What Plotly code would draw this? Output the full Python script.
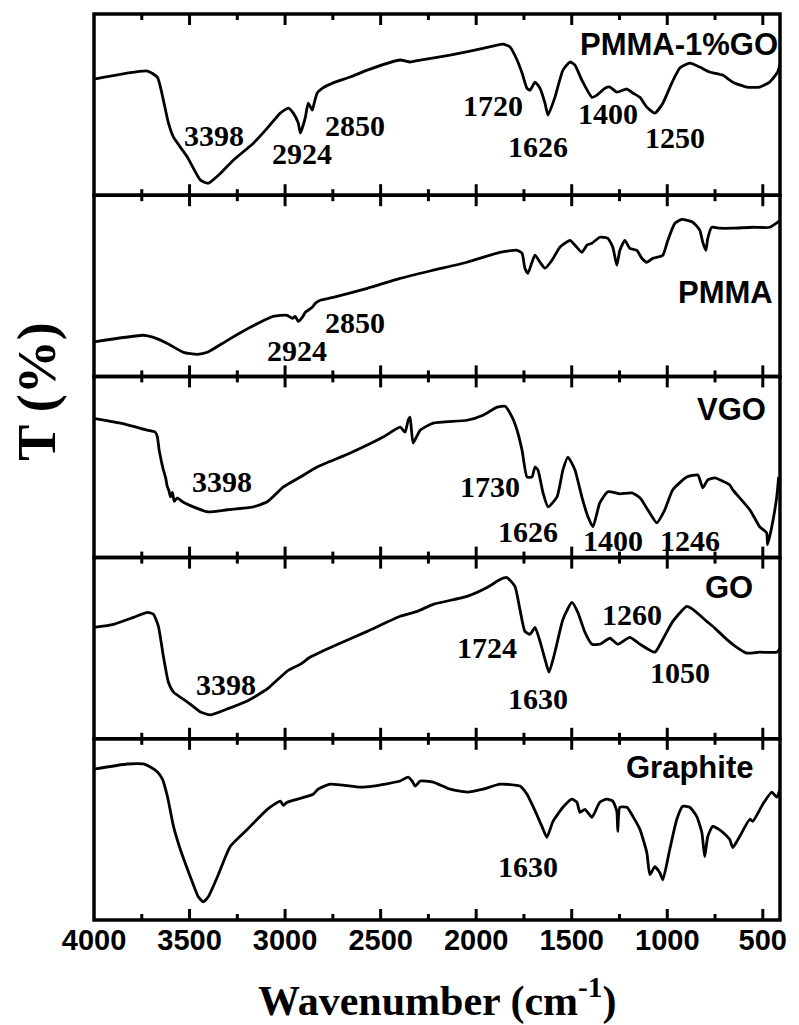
import plotly.graph_objects as go
from plotly.subplots import make_subplots

# ---- FTIR spectra (wavenumber in cm^-1, transmittance in arbitrary units per panel) ----
pmma_go_wn = [4000, 3720, 3668, 3637, 3611, 3584, 3511, 3443, 3402, 3339, 3271, 3166, 3093, 3025,
              2983, 2957, 2931, 2920, 2894, 2879, 2858, 2853, 2832, 2806, 2748, 2659, 2570, 2398,
              2346, 2293, 2137, 1964, 1860, 1823, 1786, 1760, 1734, 1718, 1692, 1666, 1640, 1624,
              1588, 1546, 1509, 1483, 1447, 1394, 1368, 1326, 1300, 1264, 1211, 1180, 1143, 1107,
              1065, 1023, 976, 934, 882, 830, 778, 710, 657, 584, 516, 464, 422, 410]
pmma_go_t = [64, 68.5, 65, 52.5, 40, 32, 21, 8.3, 6.6, 12, 19.3, 28.7, 37, 45.3,
             48, 45.3, 39.8, 34.3, 43, 50.8, 47, 48.6, 56.4, 59, 62, 65.2, 69, 74.6,
             73.5, 74.6, 77.3, 81, 83.4, 81.8, 74.6, 67.4, 59, 58, 62.4, 59, 50.8, 44.2,
             54, 69, 73.5, 71.8, 63.5, 54, 55.2, 59, 59.7, 56.9, 58.6, 56.4, 54, 48.6,
             45.3, 50.8, 62, 70.2, 72.9, 70.7, 68, 66.3, 62.4, 59.7, 59.7, 62.4, 68, 72]

pmma_wn = [4000, 3741, 3689, 3616, 3532, 3459, 3407, 3302, 3182, 3062, 2989, 2962, 2947, 2931,
           2910, 2894, 2879, 2858, 2842, 2816, 2748, 2570, 2398, 2225, 2048, 1875, 1786, 1760,
           1745, 1729, 1708, 1692, 1666, 1640, 1603, 1562, 1509, 1483, 1447, 1420, 1394, 1353,
           1311, 1285, 1264, 1248, 1222, 1196, 1159, 1133, 1107, 1075, 1023, 997, 960, 924, 866,
           830, 814, 798, 788, 767, 725, 657, 553, 464, 422, 410]
pmma_t = [19, 22.7, 21.5, 18.2, 13.3, 12.2, 13.3, 19.9, 27.1, 33.1, 33.7, 32, 33.1, 30.4,
          32.6, 35.4, 36.5, 38.1, 40.3, 42, 43.6, 48.6, 54.1, 58.6, 63, 68.5, 69.6, 68,
          59.7, 56.9, 63, 66.9, 63, 59.7, 64.1, 71.3, 75.1, 72.4, 68.5, 72.4, 73.5, 76.8,
          76.2, 71.3, 61.3, 69.6, 75.1, 70.7, 69.6, 65.2, 63, 65.2, 66.9, 75.1, 84.5, 86.7, 85.1,
          80.7, 74, 69.6, 76.2, 82.3, 81.8, 81.8, 82.3, 82.3, 85.1, 86]

vgo_wn = [4000, 3861, 3720, 3679, 3668, 3660, 3652, 3645, 3637, 3625, 3616, 3608, 3600, 3590,
          3580, 3564, 3537, 3480, 3407, 3302, 3166, 3093, 3009, 2920, 2832, 2659, 2487, 2398,
          2372, 2356, 2346, 2330, 2293, 2225, 2048, 1964, 1891, 1849, 1812, 1786, 1760, 1734,
          1708, 1692, 1677, 1650, 1624, 1577, 1546, 1520, 1483, 1447, 1415, 1389, 1353, 1311,
          1248, 1185, 1143, 1102, 1055, 1013, 971, 898, 840, 814, 788, 751, 673, 657, 568,
          516, 480, 475, 453, 427, 417]
vgo_t = [76.9, 74.2, 70.3, 69.2, 66.5, 60, 55.5, 52, 48.4, 44, 39, 37, 33.5, 36,
         31, 33, 30.8, 28, 25.3, 26.4, 28, 30.8, 39, 44.5, 50, 57.7, 66.5, 72,
         69.2, 75.8, 77.5, 63.2, 70.3, 74.2, 75.8, 78.6, 83, 83.5, 77.5, 70.3, 59.3, 44.5,
         44.5, 50, 48.4, 35.7, 28, 33.5, 48.4, 55.5, 48.4, 33.5, 22.5, 17, 30.2, 36.3,
         35.2, 35.7, 33, 26.4, 19.2, 26.4, 37.4, 44.5, 45.6, 38.5, 42.9, 44, 40.1, 37.4, 26.4,
         17, 13.7, 7.1, 17, 33.5, 44.5]

go_wn = [4000, 3898, 3794, 3720, 3689, 3663, 3637, 3611, 3584, 3511, 3443, 3391, 3302, 3198,
         3093, 2989, 2920, 2868, 2748, 2570, 2398, 2309, 2225, 2048, 1943, 1875, 1839, 1797,
         1771, 1745, 1718, 1692, 1666, 1640, 1619, 1588, 1546, 1499, 1468, 1431, 1394, 1353,
         1300, 1258, 1196, 1143, 1065, 1023, 971, 898, 866, 793, 762, 689, 636, 584, 516,
         427, 410]
go_t = [61.5, 63.2, 67, 69.8, 68.7, 62.1, 45.6, 31.3, 25.8, 20.3, 14.8, 13.2, 16.5, 20.9,
        27.5, 37.4, 41.2, 45.1, 51.1, 59.3, 67.6, 70.3, 74.2, 78.6, 83.5, 87.9, 89, 84.1,
        71.4, 59.3, 57.7, 61.5, 53.8, 44, 36.8, 47.8, 65.9, 75.3, 69.8, 58.8, 52.2, 52.2,
        55.5, 52.2, 56, 52.2, 47.8, 54.9, 64.8, 73.1, 71.4, 64.8, 62.1, 54.9, 50.5, 47.3, 47.8,
        47.8, 50]

graphite_wn = [4000, 3825, 3741, 3705, 3668, 3642, 3616, 3584, 3548, 3496, 3454, 3428, 3402,
               3354, 3287, 3198, 3093, 3025, 3009, 2989, 2853, 2827, 2764, 2607, 2539, 2398,
               2356, 2335, 2319, 2293, 2225, 2137, 2048, 1964, 1875, 1771, 1734, 1703, 1656,
               1630, 1598, 1546, 1499, 1473, 1457, 1431, 1394, 1353, 1316, 1285, 1264, 1259,
               1248, 1211, 1180, 1143, 1107, 1091, 1065, 1039, 1023, 987, 950, 919, 882, 846,
               819, 804, 788, 762, 715, 673, 657, 621, 568, 553, 500, 453, 427, 410]
graphite_t = [83.3, 86.1, 86.1, 84.4, 81.7, 77.8, 68.3, 51.7, 38.9, 23.9, 12.8, 10, 12.8,
              23.9, 40.6, 50, 61.1, 65.6, 63.3, 65, 69.4, 72.2, 75, 73.3, 73.9, 76.7,
              78.9, 76.7, 73.9, 76.7, 76.1, 72.2, 70.6, 72.2, 75, 73.9, 69.4, 62.8, 51.7,
              45.6, 54.4, 62.2, 66.7, 65, 59.4, 61.1, 56.7, 65, 66.7, 65.6, 60, 48.9,
              62.2, 62.2, 57.2, 50, 37.2, 25, 29.4, 26.1, 22.2, 38.9, 55.6, 62.8, 62.2, 57.2,
              48.3, 35, 46.1, 51.7, 48.9, 44.4, 40, 46.1, 55.6, 54.4, 63.9, 70.6, 67.8, 72]

sample_names = ["PMMA-1%GO", "PMMA", "VGO", "GO", "Graphite"]
sample_wn = [pmma_go_wn, pmma_wn, vgo_wn, go_wn, graphite_wn]
sample_t = [pmma_go_t, pmma_t, vgo_t, go_t, graphite_t]

# sample name label positions (x at right edge of text, y) per panel
name_pos = [(410, 83), (438, 46.4), (474, 82), (542, 83.5), (542, 84.4)]

# peak labels: (panel, text, wavenumber position, y position)
peak_labels = [
    (1, "3398", 3370, 33), (1, "2924", 2910, 23.2), (1, "2850", 2633, 38.7),
    (1, "1720", 1912, 49.7), (1, "1626", 1677, 27.1), (1, "1400", 1311, 45.3),
    (1, "1250", 960, 32),
    (2, "2924", 2936, 14.4), (2, "2850", 2633, 29.8),
    (3, "3398", 3328, 41.8), (3, "1730", 1927, 39), (3, "1626", 1729, 14.3),
    (3, "1400", 1285, 9.3), (3, "1246", 882, 9.3),
    (4, "3398", 3307, 30.2), (4, "1724", 1943, 50.5), (4, "1630", 1677, 22),
    (4, "1260", 1185, 68.7), (4, "1050", 934, 36.8),
    (5, "1630", 1729, 29.4),
]

# wavenumber axis: range and tick values (cm^-1)
X_RANGE = [4000, 410]
major_ticks = [500, 1000, 1500, 2000, 2500, 3000, 3500]
minor_ticks = [750, 1250, 1750, 2250, 2750, 3250, 3750]

N_PANELS = 5
FIG_H, MARGIN_T, MARGIN_B = 1025, 14, 105
panel_px = (FIG_H - MARGIN_T - MARGIN_B) / N_PANELS
major_len = 11 / panel_px   # tick length as fraction of a panel's height
minor_len = 6 / panel_px


def to_domain(v):
    """Position of a wavenumber along the (reversed) x axis, as a 0..1 domain fraction."""
    return (X_RANGE[0] - v) / (X_RANGE[0] - X_RANGE[1])


fig = make_subplots(rows=N_PANELS, cols=1, shared_xaxes=True, vertical_spacing=0)

for i, (wn, t) in enumerate(zip(sample_wn, sample_t)):
    fig.add_trace(
        go.Scatter(x=wn, y=t, mode="lines", name=sample_names[i],
                   line=dict(color="black", width=2.8, shape="spline", smoothing=0.5),
                   showlegend=False),
        row=i + 1, col=1)

serif = "Liberation Serif"
sans = "Liberation Sans"

for i in range(N_PANELS):
    fig.update_xaxes(
        row=i + 1, col=1,
        range=X_RANGE, autorange=False,
        tickmode="linear", tick0=0, dtick=500, ticks="",
        showline=False, showgrid=False, zeroline=False,
        tickfont=dict(family=sans, size=29, color="black", weight="bold"),
    )
    fig.update_yaxes(
        row=i + 1, col=1,
        range=[0, 100], autorange=False,
        showline=False, showticklabels=False, ticks="", showgrid=False, zeroline=False,
    )
    sfx = "" if i == 0 else str(i + 1)
    # inward ticks on the bottom and top edge of every panel
    for vals, ln in ((major_ticks, major_len), (minor_ticks, minor_len)):
        for v in vals:
            xd = to_domain(v)
            for y0, y1 in ((0, ln), (1, 1 - ln)):
                fig.add_shape(type="line", xref=f"x{sfx} domain", yref=f"y{sfx} domain",
                              x0=xd, x1=xd, y0=y0, y1=y1,
                              line=dict(color="black", width=3), layer="above")
    # panel frame
    fig.add_shape(type="rect", xref=f"x{sfx} domain", yref=f"y{sfx} domain",
                  x0=0, x1=1, y0=0, y1=1, line=dict(color="black", width=3.5),
                  fillcolor="rgba(0,0,0,0)", layer="above")
    nx, ny = name_pos[i]
    fig.add_annotation(
        x=nx, y=ny, xref=f"x{sfx}", yref=f"y{sfx}",
        text=sample_names[i], showarrow=False, xanchor="right", yanchor="middle",
        font=dict(family=sans, size=31, color="black", weight="bold"),
    )

for panel, txt, px, py in peak_labels:
    sfx = "" if panel == 1 else str(panel)
    fig.add_annotation(
        x=px, y=py, xref=f"x{sfx}", yref=f"y{sfx}", text=txt, showarrow=False,
        xanchor="center", yanchor="middle",
        font=dict(family=serif, size=30, color="black", weight="bold"),
    )

fig.add_annotation(
    x=0.5, y=-0.118, xref="paper", yref="paper", xanchor="center", yanchor="bottom",
    text="Wavenumber (cm<sup>-1</sup>)", showarrow=False,
    font=dict(family=serif, size=42, color="black", weight="bold"),
)
fig.add_annotation(
    x=-0.083, y=0.583, xref="paper", yref="paper", xanchor="center", yanchor="middle",
    text="T (%)", textangle=-90, showarrow=False,
    font=dict(family=serif, size=54, color="black", weight="bold"),
)

fig.update_layout(
    width=799, height=FIG_H,
    margin=dict(l=94, r=19, t=MARGIN_T, b=MARGIN_B),
    paper_bgcolor="white", plot_bgcolor="white",
)

fig.write_html("out.html")
